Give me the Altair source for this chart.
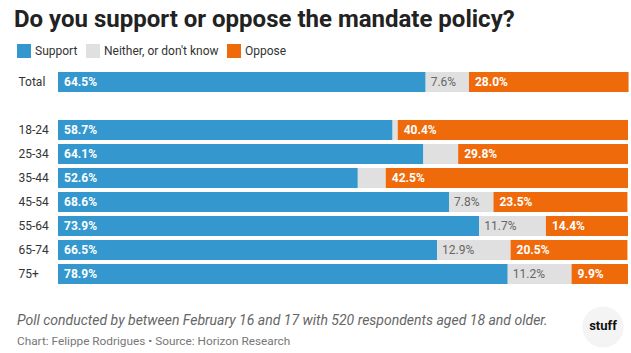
import altair as alt
import pandas as pd

groups = ["Total", "18-24", "25-34", "35-44", "45-54", "55-64", "65-74", "75+"]
support = [64.5, 58.7, 64.1, 52.6, 68.6, 73.9, 66.5, 78.9]
neither = [7.6, 0.9, 6.1, 4.9, 7.8, 11.7, 12.9, 11.2]
oppose = [28.0, 40.4, 29.8, 42.5, 23.5, 14.4, 20.5, 9.9]

categories = ["Support", "Neither, or don't know", "Oppose"]
colors = ["#3498cf", "#e0e0e0", "#ee6a0b"]
row_order = ["Total", " ", "18-24", "25-34", "35-44", "45-54", "55-64", "65-74", "75+"]

title = "Do you support or oppose the mandate policy?"
note = "Poll conducted by between February 16 and 17 with 520 respondents aged 18 and older."
credit = "Chart: Felippe Rodrigues \u2022 Source: Horizon Research"

rows = []
for g, s, n, o in zip(groups, support, neither, oppose):
    start = 0.0
    for cat, v in zip(categories, [s, n, o]):
        rows.append({"group": g, "category": cat, "value": v,
                     "start": start, "end": start + v,
                     "label": f"{v:.1f}%"})
        start += v
df = pd.DataFrame(rows)

FONT = "Roboto"

y_scale = alt.Scale(domain=row_order, paddingInner=1/6, paddingOuter=1/12)
y_axis = alt.Axis(title=None, domain=False, ticks=False, grid=False, labelAlign="left",
                  labelPadding=40, labelFontSize=12, labelFont=FONT, labelColor="#333")
x_scale = alt.Scale(domain=[0, 100], nice=False, zero=True)

base = alt.Chart(df)

bars = base.mark_bar(cornerRadius=0).encode(
    x=alt.X("start:Q", scale=x_scale, axis=None),
    x2="end:Q",
    y=alt.Y("group:N", scale=y_scale, axis=y_axis),
    color=alt.Color("category:N", scale=alt.Scale(domain=categories, range=colors),
                    legend=alt.Legend(title=None, orient="none", legendX=-41, legendY=-26,
                                      direction="horizontal", symbolType="square",
                                      symbolSize=196, symbolStrokeWidth=0, labelFontSize=12,
                                      labelFont=FONT, labelColor="#333", columnPadding=8,
                                      labelOffset=4, symbolOpacity=1)),
)

white_labels = base.transform_filter(
    "datum.category != \"Neither, or don't know\" && datum.value >= 7"
).mark_text(align="left", baseline="middle", dx=6, fontSize=12, fontWeight="bold",
            font=FONT, color="white").encode(
    x=alt.X("start:Q", scale=x_scale, axis=None),
    y=alt.Y("group:N", scale=y_scale, axis=y_axis), text="label:N")

gray_labels = base.transform_filter(
    "datum.category == \"Neither, or don't know\" && datum.value >= 7"
).mark_text(align="left", baseline="middle", dx=5, fontSize=12,
            font=FONT, color="#666").encode(
    x=alt.X("start:Q", scale=x_scale, axis=None),
    y=alt.Y("group:N", scale=y_scale, axis=y_axis), text="label:N")

deco_df = pd.DataFrame({"k": [0]})
deco = alt.Chart(deco_df)

title_mark = deco.mark_text(text=title, align="left", baseline="alphabetic", fontSize=24,
                            fontWeight="bold", font=FONT, color="#222").encode(
    x=alt.value(-44), y=alt.value(-43))

note_mark = deco.mark_text(text=note, align="left", baseline="middle", fontSize=14,
                           fontStyle="italic", font=FONT, color="#666").encode(
    x=alt.value(-41), y=alt.value(251))

credit_mark = deco.mark_text(text=credit, align="left", baseline="middle", fontSize=11.8,
                             font=FONT, color="#777").encode(
    x=alt.value(-41), y=alt.value(271))

logo_circle = deco.mark_point(shape="circle", filled=True, size=1700, color="#f4f4f4",
                              opacity=1, strokeWidth=0).encode(x=alt.value(545), y=alt.value(257))
logo_text = deco.mark_text(text="stuff", align="center", baseline="middle", fontSize=13,
                           fontWeight="bold", font=FONT, color="#111").encode(
    x=alt.value(545), y=alt.value(256))

chart = alt.layer(bars, white_labels, gray_labels, title_mark, note_mark, credit_mark,
                  logo_circle, logo_text).properties(
    width=570, height=216,
    background="white",
    padding={"left": 58, "top": 70, "right": 3, "bottom": 67},
    autosize=alt.AutoSizeParams(type="none"),
).configure_view(strokeWidth=0, stroke="transparent").configure_axis(
    grid=False, domain=False, ticks=False
)

chart.save("out.html", embed_options={"renderer": "svg", "actions": False})
